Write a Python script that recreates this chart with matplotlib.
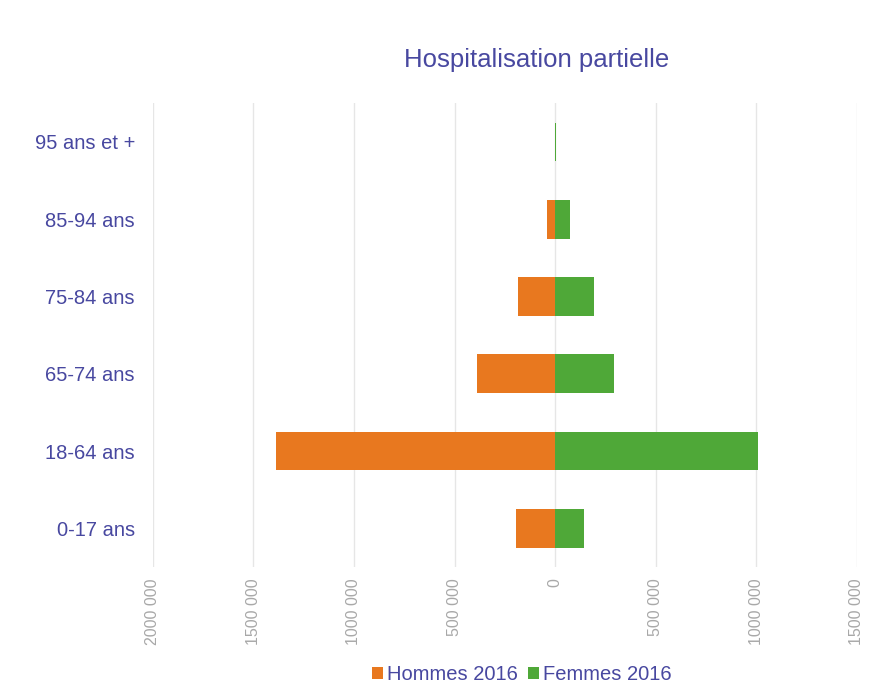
import numpy as np
import matplotlib.pyplot as plt
from matplotlib.ticker import FuncFormatter

plt.rcParams['font.family'] = ['Liberation Sans', 'DejaVu Sans']

age_groups = ['0-17 ans', '18-64 ans', '65-74 ans', '75-84 ans', '85-94 ans', '95 ans et +']
hommes_2016 = [195000, 1390000, 390000, 185000, 40000, 2000]
femmes_2016 = [145000, 1010000, 292000, 196000, 72000, 5000]

text_color = '#4848a0'
orange = '#e8781f'
green = '#4fa838'

fig = plt.figure(figsize=(8.84, 6.84), dpi=100)
ax = fig.add_axes([0.173, 0.171, 0.796, 0.678])

y = np.arange(len(age_groups))
ax.barh(y, [-v for v in hommes_2016], height=0.5, color=orange, label='Hommes 2016', zorder=3)
ax.barh(y, femmes_2016, height=0.5, color=green, label='Femmes 2016', zorder=3)

ax.set_xlim(-2000000, 1500000)
ax.set_ylim(-0.5, len(age_groups) - 0.5)
ax.set_xticks(np.arange(-2000000, 1500001, 500000))


def fmt_label(v, pos):
    v = int(abs(round(v)))
    if v == 0:
        return '0'
    s = '{:,}'.format(v).split(',')
    # millions glued to the thousands group, last group separated
    return ''.join(s[:-1]) + ' ' + s[-1]


ax.xaxis.set_major_formatter(FuncFormatter(fmt_label))
ax.set_yticks(y)
ax.set_yticklabels(age_groups)

ax.tick_params(axis='x', length=0, labelrotation=90, labelsize=11.5, labelcolor='#a8a8a8', pad=8)
ax.tick_params(axis='y', length=0, labelsize=14.5, labelcolor=text_color, pad=13)
for lbl in ax.get_xticklabels():
    lbl.set_verticalalignment('top')

ax.grid(axis='x', color='#e6e6e6', linewidth=1, zorder=0)
ax.grid(axis='y', visible=False)
for s in ax.spines.values():
    s.set_visible(False)

fig.text(0.607, 0.912, 'Hospitalisation partielle', ha='center', va='center',
         fontsize=18.5, color=text_color)

leg = fig.legend(loc='center', bbox_to_anchor=(0.59, 0.014), ncol=2, frameon=False,
                 fontsize=14.5, handlelength=0.55, handleheight=0.55, handletextpad=0.2,
                 columnspacing=0.5)
for t in leg.get_texts():
    t.set_color(text_color)

fig.savefig('out.png', dpi=100, facecolor='white')
